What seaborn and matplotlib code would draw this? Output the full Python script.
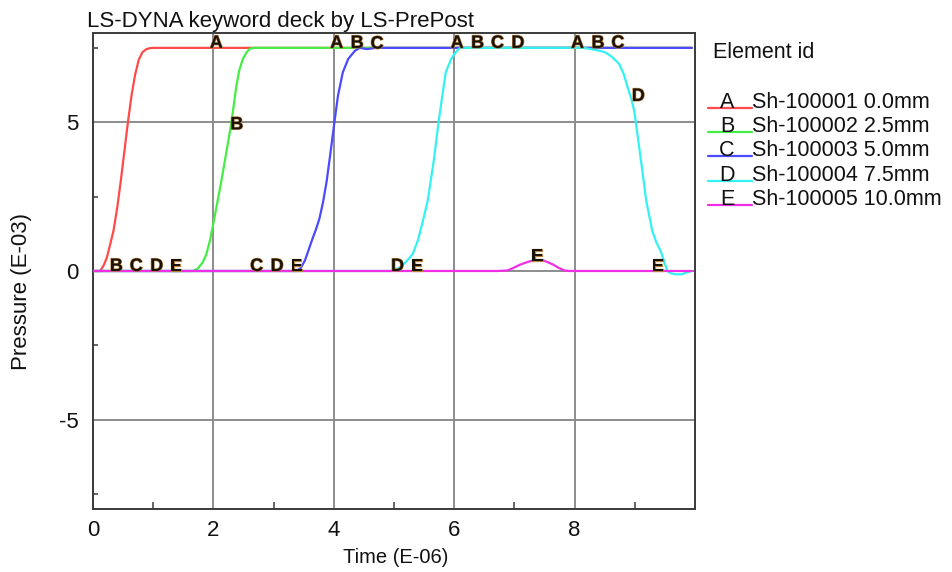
import matplotlib
matplotlib.use("Agg")
import numpy as np
import pandas as pd
import seaborn as sns
import matplotlib.pyplot as plt
from matplotlib.lines import Line2D
import matplotlib.patheffects as pe

# ---- data: pressure histories (E-03) vs time (E-06) for five shell elements ----
element_ids = ["A", "B", "C", "D", "E"]
element_names = ["Sh-100001 0.0mm", "Sh-100002 2.5mm", "Sh-100003 5.0mm",
                 "Sh-100004 7.5mm", "Sh-100005 10.0mm"]
line_colors = ["#ff4a4a", "#44ee44", "#4a4aff", "#33f2f2", "#f02ee6"]

time_a = [0.0, 0.12, 0.18, 0.23, 0.28, 0.34, 0.40, 0.46, 0.52, 0.58, 0.64, 0.70,
          0.76, 0.82, 0.88, 0.94, 1.00, 9.95]
pres_a = [0.0, 0.0, 0.2, 0.45, 0.85, 1.35, 2.1, 3.0, 4.0, 5.0, 5.9, 6.6,
          7.1, 7.35, 7.45, 7.49, 7.5, 7.5]

time_b = [0.0, 1.66, 1.74, 1.82, 1.88, 1.94, 2.00, 2.07, 2.13, 2.19, 2.25, 2.30,
          2.34, 2.38, 2.43, 2.49, 2.55, 2.60, 2.66, 9.95]
pres_b = [0.0, 0.0, 0.08, 0.28, 0.55, 1.0, 1.6, 2.36, 3.0, 3.7, 4.4, 5.0,
          5.6, 6.2, 6.75, 7.13, 7.35, 7.46, 7.5, 7.5]

time_c = [0.0, 3.38, 3.45, 3.52, 3.58, 3.64, 3.70, 3.76, 3.82, 3.88, 3.94, 4.01,
          4.07, 4.15, 4.24, 4.35, 4.43, 4.55, 4.70, 9.95]
pres_c = [0.0, 0.0, 0.1, 0.35, 0.7, 1.05, 1.38, 1.75, 2.3, 3.0, 3.9, 5.0,
          5.9, 6.68, 7.13, 7.4, 7.5, 7.46, 7.5, 7.5]

time_d = [0.0, 4.95, 5.10, 5.22, 5.31, 5.40, 5.48, 5.56, 5.66, 5.74, 5.81, 5.86,
          5.95, 6.03, 6.10, 8.15, 8.30, 8.42, 8.51, 8.62, 8.74, 8.82, 8.88, 8.94,
          8.99, 9.03, 9.07, 9.13, 9.19, 9.29, 9.36, 9.43, 9.49, 9.54, 9.60, 9.68,
          9.78, 9.86, 9.95]
pres_d = [0.0, 0.0, 0.12, 0.35, 0.57, 1.05, 1.68, 2.36, 3.7, 5.0, 6.0, 6.68,
          7.13, 7.37, 7.5, 7.5, 7.45, 7.4, 7.35, 7.2, 6.96, 6.6, 6.18, 5.8,
          5.39, 4.8, 4.2, 3.3, 2.36, 1.35, 0.95, 0.67, 0.3, 0.0, -0.08, -0.11,
          -0.11, -0.05, 0.0]

time_e = [0.0, 6.72, 6.89, 6.98, 7.08, 7.20, 7.30, 7.40, 7.47, 7.55, 7.64, 7.74,
          7.83, 7.91, 9.95]
pres_e = [0.0, 0.0, 0.02, 0.1, 0.2, 0.29, 0.35, 0.37, 0.36, 0.3, 0.22, 0.1,
          0.02, 0.0, 0.0]

# curve identifier letters placed along each history
label_times = {
    "A": [1.94, 3.94, 5.94, 7.94],
    "B": [0.28, 2.28, 4.28, 6.28, 8.28],
    "C": [0.61, 2.61, 4.61, 6.61, 8.61],
    "D": [0.95, 2.95, 4.95, 6.95, 8.95],
    "E": [1.28, 3.28, 5.28, 7.28, 9.28],
}

x_major = [0, 2, 4, 6, 8]
x_minor = [1, 3, 5, 7, 9]
y_major = [-5, 0, 5]
y_minor = [-7.5, -2.5, 2.5, 7.5]

# ---- long-form table ----
series = dict(zip(element_ids, [(time_a, pres_a), (time_b, pres_b), (time_c, pres_c),
                                (time_d, pres_d), (time_e, pres_e)]))
df = pd.concat(
    [pd.DataFrame({"time": t, "pressure": p, "element": k}) for k, (t, p) in series.items()],
    ignore_index=True,
)

sns.set_style("white")
plt.rcParams["font.family"] = ["Liberation Sans", "DejaVu Sans"]
plt.rcParams["axes.unicode_minus"] = False

W, H = 952, 572
fig = plt.figure(figsize=(W / 100, H / 100), dpi=100)
ax = fig.add_axes([93 / W, 1 - 509 / H, 602 / W, 476 / H])

palette = dict(zip(element_ids, line_colors))
sns.lineplot(data=df, x="time", y="pressure", hue="element", hue_order=element_ids,
             palette=palette, estimator=None, sort=False, legend=False,
             linewidth=1.6, ax=ax, zorder=3)

ax.set_xlim(0, 10)
ax.set_ylim(-8, 8)
ax.set_xticks(x_major)
ax.set_xticks(x_minor, minor=True)
ax.set_yticks(y_major)
ax.set_yticks(y_minor, minor=True)
ax.set_xticklabels([str(v) for v in x_major])
ax.set_yticklabels([str(v) for v in y_major])

ax.grid(True, which="major", color="#8c8c8c", linewidth=1.4)
ax.set_axisbelow(True)
for s in ax.spines.values():
    s.set_visible(True)
    s.set_color("#3a3a3a")
    s.set_linewidth(1.4)

ax.tick_params(axis="x", which="major", direction="inout", length=8, width=1.1,
               color="#3a3a3a", pad=4, labelsize=16, labelcolor="#111111")
ax.tick_params(axis="y", which="major", direction="inout", length=9, width=1.1,
               color="#3a3a3a", pad=6, labelsize=16, labelcolor="#111111")
ax.tick_params(axis="x", which="minor", direction="in", length=5, width=1.1,
               color="#3a3a3a", bottom=True)
ax.tick_params(axis="y", which="minor", direction="in", length=3.6, width=1.1,
               color="#3a3a3a", left=True)

ax.set_xlabel("Time (E-06)", fontsize=14.5, color="#111111")
ax.xaxis.label.set(ha="center", va="baseline")
ax.xaxis.set_label_coords((396 - 93) / 602, -(563 - 509) / 476)
ax.set_ylabel("Pressure (E-03)", fontsize=16, color="#111111")
ax.yaxis.label.set(ha="center", va="center")
ax.yaxis.set_label_coords((22 - 93) / 602, (509 - 292) / 476)

# letters marking each curve
halo = [pe.withStroke(linewidth=0.9, foreground="#b8843e")]
for k, ts in label_times.items():
    t_arr, p_arr = series[k]
    for t in ts:
        y = float(np.interp(t, t_arr, p_arr))
        ax.text(t, y, k, ha="left", va="baseline", fontsize=13, color="#1a1208",
                fontweight="bold", path_effects=halo, zorder=5, clip_on=False)

# title
fig.text(87 / W, 1 - 26.5 / H, "LS-DYNA keyword deck by LS-PrePost",
         fontsize=16, ha="left", va="baseline", color="#111111")

# legend block
fig.text(713 / W, 1 - 58 / H, "Element id", fontsize=15.5, ha="left",
         va="baseline", color="#111111")
for i, (k, name, c) in enumerate(zip(element_ids, element_names, line_colors)):
    yb = 108.3 + i * 24.1
    fig.add_artist(Line2D([708 / W, 752 / W], [1 - yb / H, 1 - yb / H],
                          color=c, linewidth=1.6, transform=fig.transFigure))
    fig.text(727 / W, 1 - yb / H, k, fontsize=15.5, ha="center", va="baseline",
             color="#111111")
    fig.text(752 / W, 1 - yb / H, name, fontsize=15.5, ha="left", va="baseline",
             color="#111111")

fig.savefig("out.png", dpi=100)
